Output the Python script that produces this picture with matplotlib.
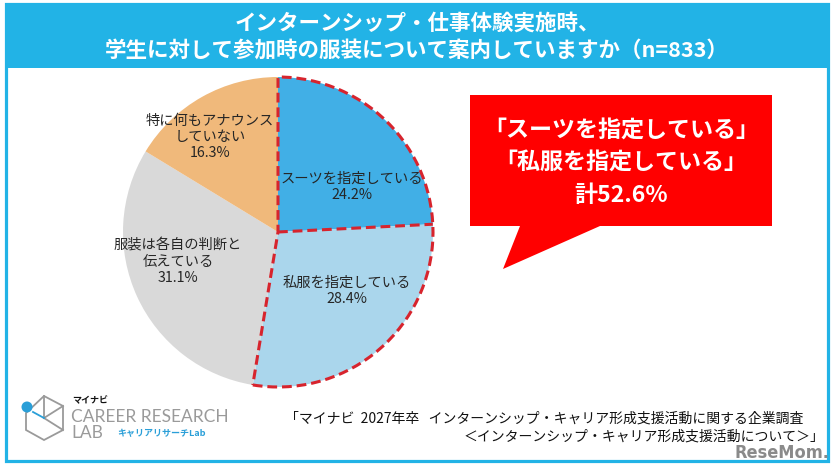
import matplotlib
matplotlib.use('Agg')
import matplotlib.pyplot as plt
import numpy as np
from matplotlib.patches import Wedge, Polygon, Rectangle, Circle

plt.rcParams['font.family'] = ['Noto Sans CJK JP', 'DejaVu Sans']

W, H = 835, 471

# ---- data ----
categories = ['スーツを指定している', '私服を指定している',
              '服装は各自の判断と\n伝えている', '特に何もアナウンス\nしていない']
values = [24.2, 28.4, 31.1, 16.3]
colors = ['#41AFE6', '#AAD6EC', '#D9D9D9', '#F0B97B']
n_resp = 833
title_lines = ['インターンシップ・仕事体験実施時、',
               f'学生に対して参加時の服装について案内していますか（n={n_resp}）']
callout_lines = ['「スーツを指定している」', '「私服を指定している」']
source_lines = ['「マイナビ  2027年卒   インターンシップ・キャリア形成支援活動に関する企業調査',
                '＜インターンシップ・キャリア形成支援活動について＞」']

CYAN = '#22B3E6'
RED_DASH = '#D7242D'
TXT = '#262626'


def Y(y):
    return H - y


fig = plt.figure(figsize=(8.35, 4.71), dpi=100)
ax = fig.add_axes([0, 0, 1, 1])

center = (278, Y(232))
radius = 155
wedges, _ = ax.pie(values, colors=colors, startangle=90, counterclock=False,
                   center=center, radius=radius, frame=True,
                   wedgeprops=dict(linewidth=0))
ax.set_xlim(0, W)
ax.set_ylim(0, H)
ax.set_aspect('equal')
ax.axis('off')

# dashed highlight around first two slices
dash = (0, (3.2, 1.6))
t1 = wedges[1].theta1
t2 = wedges[0].theta2
ax.add_patch(Wedge(center, radius, t1, t2, fill=False, edgecolor=RED_DASH,
                   linewidth=2.2, linestyle=dash, zorder=5))
tb = np.deg2rad(wedges[0].theta1)
ax.plot([center[0], center[0] + radius * np.cos(tb)],
        [center[1], center[1] + radius * np.sin(tb)],
        color=RED_DASH, lw=2.2, linestyle=dash, zorder=5)

# slice labels
label_pos = [(352, 187), (347, 291), (178, 262), (210, 137)]
for cat, v, (x, y) in zip(categories, values, label_pos):
    ax.text(x, Y(y), f'{cat}\n{v:.1f}%', ha='center', va='center',
            fontsize=10.3, color=TXT, linespacing=1.2, zorder=6)

# header band and frame
ax.add_patch(Rectangle((6, Y(68)), 822, 64, facecolor=CYAN, edgecolor='none', zorder=1))
ax.add_patch(Rectangle((6, Y(461)), 822, 457, facecolor='none', edgecolor=CYAN,
                       linewidth=2.3, zorder=7))
ax.text(417, Y(23), title_lines[0], ha='center', va='center', fontsize=15.5,
        color='white', fontweight='bold')
ax.text(417, Y(50), title_lines[1], ha='center', va='center', fontsize=15.5,
        color='white', fontweight='bold')

# callout
pts = [(470, 95), (772, 95), (772, 226), (600, 226), (503, 269), (520, 226), (470, 226)]
ax.add_patch(Polygon([(x, Y(y)) for x, y in pts], closed=True, facecolor='#FF0000',
                     edgecolor='none', zorder=3))
total = values[0] + values[1]
cl = callout_lines + [f'計{total:.1f}%']
for line, y in zip(cl, [130, 163, 196]):
    ax.text(621, Y(y), line, ha='center', va='center', fontsize=16.6,
            color='white', fontweight='bold', zorder=4)

# source
ax.text(803, Y(418), source_lines[0], ha='right', va='center', fontsize=10, color='#111111')
ax.text(824, Y(437), source_lines[1], ha='right', va='center', fontsize=10, color='#111111')

# logo
gray = '#9A9A9A'
blue = '#2A9FD8'
hexpts = [(44, 396), (63, 406), (63, 430), (44, 440), (26, 430), (26, 413)]
ax.add_patch(Polygon([(x, Y(y)) for x, y in hexpts], closed=True, fill=False,
                     edgecolor=gray, lw=1.3))
for (xa, ya), (xb, yb), c in [((44, 396), (44, 418), gray), ((44, 418), (63, 406), gray),
                              ((44, 418), (63, 430), gray), ((44, 418), (33, 412), blue)]:
    ax.plot([xa, xb], [Y(ya), Y(yb)], color=c, lw=1.3)
ax.add_patch(Circle((27, Y(407)), 5.5, facecolor=blue, edgecolor='none', zorder=8))
ax.text(72, Y(401), 'マイナビ', fontsize=6.5, fontweight='bold', color='#111111', va='center')
ax.text(71, Y(417), 'CAREER RESEARCH', family='Lato', fontsize=12.5, color=gray, va='center')
ax.text(71, Y(433), 'LAB', family='Lato', fontsize=12.5, color=gray, va='center')
ax.text(117, Y(434), 'キャリアリサーチLab', fontsize=6.5, fontweight='bold', color=blue, va='center')

# watermark
ax.text(782, Y(453), 'ReseMom.', ha='center', va='center', fontsize=13, fontweight='bold',
        color='#8A8A8A', family='DejaVu Sans', fontstretch='condensed', zorder=9)

fig.savefig('out.png', dpi=100)
